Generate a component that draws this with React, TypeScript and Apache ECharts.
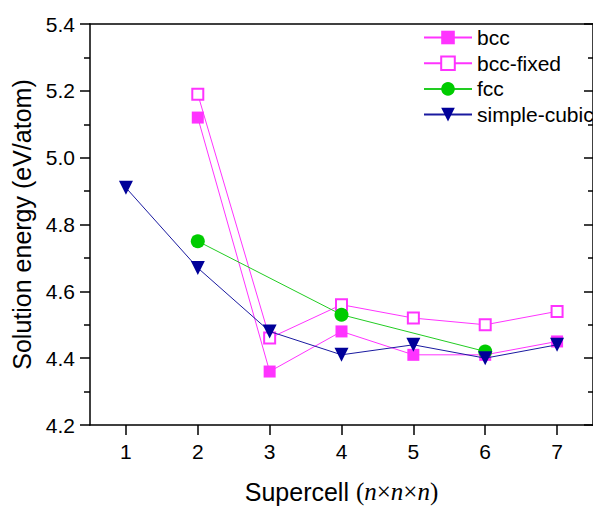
import React, { useEffect, useRef } from "react";
import * as echarts from "echarts";

const categories = ["1", "2", "3", "4", "5", "6", "7"];
const bcc = [null, 5.12, 4.36, 4.48, 4.41, 4.41, 4.45];
const bccFixed = [null, 5.19, 4.46, 4.56, 4.52, 4.5, 4.54];
const fcc = [null, 4.75, null, 4.53, null, 4.42, null];
const simpleCubic = [4.91, 4.67, 4.48, 4.41, 4.44, 4.4, 4.44];
const yMin = 4.2;
const yMax = 5.4;
const yStep = 0.2;

const SANS = "'Liberation Sans', Arial, sans-serif";
const SERIF = "'Liberation Serif', 'Times New Roman', serif";
const MAGENTA = "#ff33ff";
const GREEN = "#00cc00";
const NAVY = "#000099";

export default function App() {
  const ref = useRef<HTMLDivElement>(null);
  useEffect(() => {
    if (!ref.current) return;
    const chart = echarts.init(ref.current, null, { renderer: "svg" });
    const axisLine = { show: true, lineStyle: { color: "#000", width: 1.5 } };
    chart.setOption({
      animation: false,
      backgroundColor: "#fff",
      grid: { left: 90, top: 24, right: -3, bottom: 78, containLabel: false },
      legend: {
        orient: "vertical",
        left: 418,
        top: 22,
        itemWidth: 48,
        itemHeight: 17,
        itemGap: 4.7,
        textStyle: { fontFamily: SANS, fontSize: 21, color: "#000", lineHeight: 21 },
        data: ["bcc", "bcc-fixed", "fcc", "simple-cubic"],
      },
      xAxis: [
        {
          type: "category",
          data: categories,
          position: "bottom",
          boundaryGap: true,
          axisLine,
          axisTick: { show: true, alignWithLabel: true, inside: false, length: 10, lineStyle: { color: "#000", width: 1.5 } },
          axisLabel: { fontFamily: SANS, fontSize: 21, color: "#000", margin: 16 },
          splitLine: { show: false },
          name: "{a|Supercell }{b|(}{c|n}{b|×}{c|n}{b|×}{c|n}{b|)}",
          nameLocation: "middle",
          nameGap: 54,
          nameTextStyle: {
            rich: {
              a: { fontFamily: SANS, fontSize: 25, color: "#000" },
              b: { fontFamily: SERIF, fontSize: 25, color: "#000" },
              c: { fontFamily: SERIF, fontSize: 25, fontStyle: "italic", color: "#000" },
            },
          },
        },
        {
          type: "category",
          data: categories,
          position: "top",
          boundaryGap: true,
          axisLine,
          axisTick: { show: false },
          axisLabel: { show: false },
          splitLine: { show: false },
        },
      ],
      yAxis: [
        {
          type: "value",
          min: yMin,
          max: yMax,
          interval: yStep,
          position: "left",
          axisLine,
          axisTick: { show: true, inside: false, length: 10, lineStyle: { color: "#000", width: 1.5 } },
          minorTick: { show: true, splitNumber: 2, length: 6, lineStyle: { color: "#000", width: 1.5 } },
          axisLabel: { fontFamily: SANS, fontSize: 21, color: "#000", margin: 15, formatter: (v: number) => v.toFixed(1) },
          splitLine: { show: false },
          name: "Solution energy (eV/atom)",
          nameLocation: "middle",
          nameGap: 43,
          nameTextStyle: { fontFamily: SANS, fontSize: 25, color: "#000" },
        },
        {
          type: "value",
          min: yMin,
          max: yMax,
          interval: yStep,
          position: "right",
          axisLine,
          axisTick: { show: true, inside: true, length: 9, lineStyle: { color: "#000", width: 1.5 } },
          minorTick: { show: true, splitNumber: 2, length: 5, lineStyle: { color: "#000", width: 1.5 } },
          axisLabel: { show: false },
          splitLine: { show: false },
        },
      ],
      series: [
        {
          name: "bcc",
          type: "line",
          data: bcc,
          symbol: "rect",
          symbolSize: 12,
          itemStyle: { color: MAGENTA },
          lineStyle: { color: MAGENTA, width: 1 },
          z: 2,
        },
        {
          name: "bcc-fixed",
          type: "line",
          data: bccFixed,
          symbol: "rect",
          symbolSize: 11,
          itemStyle: { color: "#fff", borderColor: MAGENTA, borderWidth: 2 },
          lineStyle: { color: MAGENTA, width: 1 },
          z: 3,
        },
        {
          name: "fcc",
          type: "line",
          data: fcc,
          connectNulls: true,
          symbol: "circle",
          symbolSize: 14,
          itemStyle: { color: GREEN },
          lineStyle: { color: "#22cc22", width: 1 },
          z: 4,
        },
        {
          name: "simple-cubic",
          type: "line",
          data: simpleCubic,
          symbol: "triangle",
          symbolRotate: 180,
          symbolSize: 14,
          itemStyle: { color: NAVY },
          lineStyle: { color: "#1a1aa0", width: 1 },
          z: 5,
        },
      ],
    });
    return () => chart.dispose();
  }, []);
  return (
    <div
      ref={ref}
      style={{ position: "fixed", left: 0, top: 0, width: 593, height: 509, background: "#fff" }}
    />
  );
}
